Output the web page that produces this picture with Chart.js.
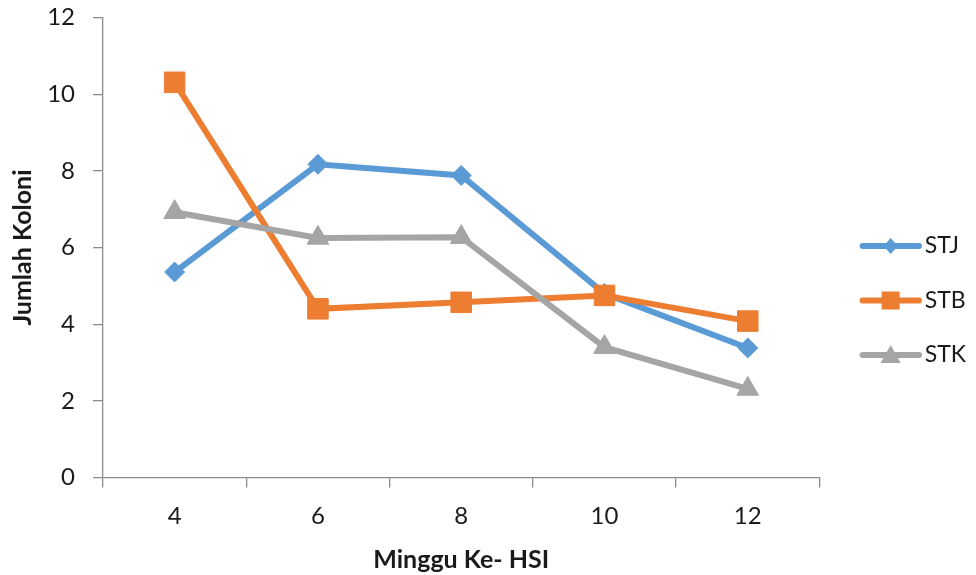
<!DOCTYPE html>
<html>
<head>
<meta charset="utf-8">
<script src="https://cdn.jsdelivr.net/npm/chart.js@4/dist/chart.umd.min.js"></script>
<style>
  html, body { margin: 0; padding: 0; background: #ffffff; }
  #wrap { width: 976px; height: 575px; }
</style>
</head>
<body>
<div id="wrap"><canvas id="c" width="976" height="575"></canvas></div>
<script>
// Weeks after inoculation (HSI) and colony counts per treatment
const weeks = ['4', '6', '8', '10', '12'];
const stj = [5.36, 8.17, 7.88, 4.8, 3.38];
const stb = [10.31, 4.4, 4.57, 4.75, 4.08];
const stk = [6.92, 6.25, 6.27, 3.4, 2.31];
const yTicks = [0, 2, 4, 6, 8, 10, 12];

const FONT = 'Lato, "Open Sans", "Liberation Sans", sans-serif';
const TEXT = '#1a1a1a';
const BLUE = '#5B9BD5';
const ORANGE = '#ED7D31';
const GRAY = '#A5A5A5';
const AXIS = '#8c8c8c';

// Frame of the plot area inside the 976x575 canvas
const PLOT_LEFT = 103;
const PLOT_TOP = 17.5;
const PLOT_RIGHT = 822.7;
const PLOT_BOTTOM = 477.5;

// Legend swatch: a short line with the series marker in the middle
function swatch(color, shape) {
  const cv = document.createElement('canvas');
  cv.width = 80; cv.height = 26;
  const g = cv.getContext('2d');
  g.strokeStyle = color; g.fillStyle = color;
  g.lineWidth = 6; g.lineCap = 'round';
  g.beginPath(); g.moveTo(20.5, 13); g.lineTo(77, 13); g.stroke();
  g.beginPath();
  const cx = 48.6;
  if (shape === 'diamond') {
    g.moveTo(cx, 5); g.lineTo(cx + 7, 13); g.lineTo(cx, 21); g.lineTo(cx - 7, 13);
  } else if (shape === 'square') {
    g.rect(cx - 9, 4, 18, 18);
  } else {
    g.moveTo(cx, 3); g.lineTo(cx + 10, 21); g.lineTo(cx - 10, 21);
  }
  g.closePath(); g.fill();
  return cv;
}

const series = [
  { label: 'STJ', data: stj, color: BLUE, style: 'rectRot', radius: 10, shape: 'diamond', order: 3 },
  { label: 'STB', data: stb, color: ORANGE, style: 'rect', radius: 14.5, shape: 'square', order: 2 },
  { label: 'STK', data: stk, color: GRAY, style: 'triangle', radius: 12.5, shape: 'triangle', order: 1 }
];

const datasets = series.map(s => ({
  label: s.label,
  data: s.data,
  order: s.order,
  borderColor: s.color,
  backgroundColor: s.color,
  borderWidth: 6,
  tension: 0,
  pointStyle: s.style,
  pointRadius: s.radius,
  pointHoverRadius: s.radius,
  pointBackgroundColor: s.color,
  pointBorderColor: s.color,
  pointBorderWidth: 1
}));

new Chart(document.getElementById('c'), {
  type: 'line',
  data: { labels: weeks, datasets: datasets },
  options: {
    responsive: false,
    animation: false,
    devicePixelRatio: 1,
    layout: { padding: 0 },
    plugins: {
      tooltip: { enabled: false },
      legend: {
        position: 'right',
        title: { display: true, text: '', font: { size: 1 }, padding: { top: 12.4, bottom: 12.4 } },
        labels: {
          usePointStyle: true,
          pointStyleWidth: 62.3,
          padding: 31.5,
          color: TEXT,
          font: { family: FONT, size: 23 },
          generateLabels: chart => series.map((s, i) => ({
            text: s.label,
            pointStyle: swatch(s.color, s.shape),
            fillStyle: s.color,
            strokeStyle: s.color,
            lineWidth: 0,
            hidden: false,
            datasetIndex: i,
            fontColor: TEXT
          }))
        }
      }
    },
    scales: {
      x: {
        type: 'category',
        offset: true,
        border: { display: true, color: AXIS, width: 1.3 },
        grid: { display: true, offset: true, drawOnChartArea: false, drawTicks: true, tickLength: 10, color: AXIS, lineWidth: 1.3 },
        ticks: { color: TEXT, padding: 14, font: { family: FONT, size: 24 }, maxRotation: 0 },
        title: {
          display: true,
          text: 'Minggu Ke- HSI',
          color: TEXT,
          font: { family: FONT, size: 25, weight: 'bold' },
          padding: { top: 4, bottom: 0 }
        },
        afterFit: axis => {
          axis.height = 575 - PLOT_BOTTOM;
          axis.paddingRight = 976 - PLOT_RIGHT;
        }
      },
      y: {
        min: 0,
        max: 12,
        border: { display: true, color: AXIS, width: 1.3 },
        grid: { display: true, drawOnChartArea: false, drawTicks: true, tickLength: 10, color: AXIS, lineWidth: 1.3 },
        afterBuildTicks: axis => { axis.ticks = yTicks.map(v => ({ value: v })); },
        ticks: { color: TEXT, padding: 18, font: { family: FONT, size: 24 } },
        title: {
          display: true,
          text: 'Jumlah Koloni',
          color: TEXT,
          font: { family: FONT, size: 25, weight: 'bold' },
          padding: { top: 8, bottom: 4 }
        },
        afterFit: axis => {
          axis.width = PLOT_LEFT;
          axis.paddingTop = PLOT_TOP;
        }
      }
    }
  }
});
</script>
</body>
</html>
